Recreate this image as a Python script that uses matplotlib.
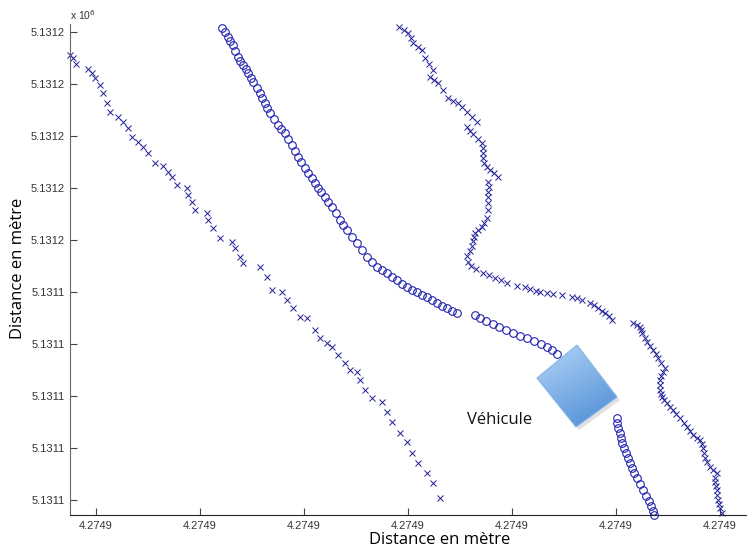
import numpy as np
import matplotlib
matplotlib.use("Agg")
import matplotlib.pyplot as plt
from matplotlib.patches import Polygon

# local metres (east, north)
# left border, "x" markers
left_x = [-2.50, -2.21, -1.92, -0.77, -0.38, -0.10, 0.38, 0.67, 1.06, 1.35,
          2.12, 2.60, 3.08, 3.46, 4.04, 4.52, 5.00, 5.67, 6.44, 6.92,
          7.31, 7.79, 8.75, 8.85, 9.23, 9.52, 10.67, 10.77, 11.25, 11.92,
          13.08, 13.37, 13.85, 14.13, 15.77, 16.44, 16.92, 17.88, 18.37, 18.94,
          19.62, 20.29, 21.06, 21.54, 22.21, 22.69, 23.27, 23.94, 24.42, 25.10,
          25.38, 25.87, 26.54, 27.50, 27.98, 28.46, 29.23, 29.90, 30.38, 30.96,
          31.83, 32.40, 33.08]
left_y = [42.79, 42.50, 41.92, 41.44, 41.06, 40.58, 39.90, 39.13, 38.17, 37.31,
          36.83, 36.35, 35.77, 34.90, 34.42, 33.94, 33.37, 32.40, 32.12, 31.54,
          31.06, 30.29, 30.00, 29.33, 28.65, 27.88, 27.60, 26.92, 26.15, 25.19,
          24.81, 24.23, 23.37, 22.79, 22.40, 21.44, 20.19, 20.00, 19.23, 18.46,
          17.60, 17.50, 16.35, 15.58, 15.10, 14.71, 13.94, 13.17, 12.50, 12.31,
          11.54, 10.58, 9.81, 9.42, 8.46, 7.50, 6.44, 5.58, 4.52, 3.56,
          2.60, 1.63, 0.19]

# vehicle track, "o" markers (three pieces)
track1_x = [12.12, 12.40, 12.69, 12.88, 13.17, 13.37, 13.65, 13.85, 14.13, 14.42,
            14.62, 14.90, 15.10, 15.48, 15.77, 15.96, 16.25, 16.44, 16.73, 17.12,
            17.50, 17.79, 18.17, 18.46, 18.85, 19.13, 19.42, 19.71, 20.10, 20.38,
            20.77, 21.06, 21.35, 21.63, 22.02, 22.31, 22.69, 23.08, 23.46, 23.75,
            24.13, 24.62, 25.10, 25.58, 26.06, 26.54, 27.02, 27.50, 27.98, 28.46,
            28.94, 29.42, 29.90, 30.38, 30.87, 31.35, 31.83, 32.31, 32.79, 33.27,
            33.75, 34.23, 34.71]
track1_y = [45.38, 45.00, 44.52, 44.13, 43.75, 43.17, 42.60, 42.21, 41.83, 41.44,
            41.06, 40.58, 40.19, 39.62, 39.13, 38.65, 38.17, 37.69, 37.21, 36.63,
            36.06, 35.67, 35.29, 34.71, 34.13, 33.56, 32.98, 32.50, 31.92, 31.44,
            30.96, 30.48, 30.00, 29.62, 29.13, 28.65, 28.17, 27.60, 26.92, 26.44,
            25.96, 25.29, 24.71, 24.04, 23.37, 22.88, 22.40, 22.12, 21.83, 21.44,
            21.15, 20.77, 20.48, 20.19, 20.00, 19.71, 19.52, 19.23, 18.94, 18.65,
            18.46, 18.17, 17.98]
track2_x = [36.44, 36.92, 37.50, 38.17, 38.75, 39.42, 40.10, 40.77, 41.44, 42.12,
            42.79, 43.37, 43.85, 44.33]
track2_y = [17.79, 17.50, 17.21, 16.92, 16.63, 16.35, 16.06, 15.77, 15.58, 15.29,
            15.00, 14.71, 14.42, 14.04]
track3_x = [50.10, 50.10, 50.19, 50.38, 50.48, 50.58, 50.77, 50.96, 51.15, 51.35,
            51.54, 51.73, 52.02, 52.31, 52.60, 52.88, 53.17, 53.37, 53.56, 53.65]
track3_y = [7.88, 7.40, 6.92, 6.44, 5.96, 5.48, 5.00, 4.52, 4.04, 3.56,
            3.08, 2.60, 2.12, 1.54, 0.96, 0.38, -0.10, -0.58, -1.06, -1.44]

# middle border, "x" markers
mid_x = [29.13, 29.62, 30.00, 30.29, 30.48, 30.96, 31.35, 31.63, 32.02, 32.40,
         32.12, 32.50, 32.88, 33.37, 33.85, 34.33, 34.81, 35.19, 35.67, 36.15,
         36.63, 35.67, 35.96, 36.25, 36.73, 37.12, 37.21, 37.21, 37.21, 37.31,
         37.60, 37.88, 38.27, 38.65, 37.69, 37.79, 37.69, 37.69, 37.69, 37.69,
         37.60, 37.31, 37.12, 36.73, 36.44, 36.35, 36.25, 36.15, 35.96, 35.67,
         35.77, 36.06, 36.54, 37.21, 37.79, 38.37, 38.94, 39.52, 40.48, 41.25,
         41.73, 42.31, 42.69, 43.37, 43.94, 44.81, 45.77, 46.25, 46.73, 47.50,
         47.88, 48.27, 48.65, 48.94, 49.33, 49.62]
mid_y = [45.48, 45.19, 44.90, 44.42, 43.94, 43.56, 43.27, 42.50, 41.92, 41.35,
         40.67, 40.38, 40.10, 39.42, 38.65, 38.37, 38.17, 37.79, 37.31, 36.83,
         36.35, 35.87, 35.48, 35.19, 34.71, 34.33, 33.85, 33.37, 32.88, 32.40,
         32.02, 31.73, 31.44, 31.06, 30.58, 30.10, 29.62, 29.13, 28.56, 27.88,
         27.12, 26.63, 26.25, 25.96, 25.67, 25.29, 24.90, 24.42, 23.94, 23.46,
         22.88, 22.50, 22.21, 21.83, 21.63, 21.35, 21.15, 20.87, 20.58, 20.48,
         20.29, 20.10, 20.00, 19.90, 19.81, 19.71, 19.52, 19.42, 19.23, 18.94,
         18.75, 18.46, 18.17, 17.98, 17.69, 17.31]

# right border, "x" markers
right_x = [51.63, 52.02, 52.31, 52.40, 52.50, 52.79, 52.98, 53.27, 53.56, 53.85,
           54.04, 54.33, 54.71, 54.52, 54.33, 54.23, 54.23, 54.23, 54.33, 54.42,
           54.62, 54.90, 55.19, 55.48, 55.77, 56.15, 56.54, 56.83, 57.12, 57.40,
           57.79, 58.08, 58.27, 58.37, 58.46, 58.56, 58.75, 59.04, 59.33, 59.71,
           59.52, 59.52, 59.62, 59.71, 59.71, 59.81, 59.90, 60.00, 60.19]
right_y = [17.02, 16.83, 16.63, 16.35, 16.06, 15.58, 15.19, 14.81, 14.42, 14.04,
           13.65, 13.17, 12.69, 12.31, 11.92, 11.54, 11.06, 10.58, 10.19, 9.90,
           9.62, 9.33, 8.94, 8.65, 8.27, 7.88, 7.40, 7.02, 6.63, 6.25,
           5.96, 5.77, 5.38, 5.00, 4.52, 4.04, 3.65, 3.17, 2.88, 2.60,
           2.12, 1.73, 1.35, 0.96, 0.48, 0.00, -0.38, -0.77, -1.25]

# vehicle footprint corners (top, left, bottom, right)
vehicle_x = [46.25, 42.40, 46.15, 50.10]
vehicle_y = [14.90, 11.73, 7.02, 9.90]

x_ticks = [0, 10, 20, 30, 40, 50, 60]
x_labels = ['4.2749'] * 7
y_ticks = [0, 5, 10, 15, 20, 25, 30, 35, 40, 45]
y_labels = ['5.1311'] * 5 + ['5.1312'] * 5

fig = plt.figure(figsize=(7.47, 5.51), dpi=100)
ax = fig.add_axes([0.0937, 0.0653, 0.9063, 0.891])

xcol = '#1f1f99'
ocol = '#2323b0'
for xs, ys in [(left_x, left_y), (mid_x, mid_y), (right_x, right_y)]:
    ax.plot(xs, ys, ls='none', marker='x', ms=4, mew=0.7, color=xcol, clip_on=False)
for xs, ys in [(track1_x, track1_y), (track2_x, track2_y), (track3_x, track3_y)]:
    ax.plot(xs, ys, ls='none', marker='o', ms=5.5, mew=0.8, mfc='none', mec=ocol,
            clip_on=False)

# vehicle: gradient filled rotated rectangle with a soft shadow
corners = np.column_stack([vehicle_x, vehicle_y])
shadow = Polygon(corners + [0.3, -0.3], closed=True, fc='#c4c4c4', ec='none',
                 alpha=0.5, zorder=4)
ax.add_patch(shadow)
body = Polygon(corners, closed=True, fc='none', ec='#86b6ea', lw=0.8, zorder=6)
ax.add_patch(body)
gx, gy = np.meshgrid(np.linspace(0, 1, 100), np.linspace(0, 1, 100))
grad = 0.35 * gx + 0.65 * gy
cmap = matplotlib.colors.LinearSegmentedColormap.from_list('veh', ['#b3d5f8', '#4a8ad3'])
img = ax.imshow(grad, cmap=cmap, origin='upper', aspect='auto', zorder=5,
                extent=[min(vehicle_x), max(vehicle_x), min(vehicle_y), max(vehicle_y)])
img.set_clip_path(body)
ax.text(38.8, 7.7, 'Véhicule', fontsize=12, family='Open Sans', ha='center',
        va='center', color='#111111')

ax.set_xlim(-2.5, 62.6)
ax.set_ylim(-1.44, 45.77)
ax.set_xticks(x_ticks)
ax.set_xticklabels(x_labels)
ax.set_yticks(y_ticks)
ax.set_yticklabels(y_labels)
ax.tick_params(direction='in', length=5, width=0.8, colors='#444444', labelsize=8,
               pad=4, labelcolor='#333333')
for s in ['top', 'right']:
    ax.spines[s].set_visible(False)
ax.spines['left'].set_color('#666666')
ax.spines['bottom'].set_color('#222222')
for lbl in ax.get_xticklabels() + ax.get_yticklabels():
    lbl.set_family('Liberation Sans')

ax.text(-0.0, 1.005, r'x 10$^6$', transform=ax.transAxes, fontsize=7.5,
        family='Liberation Sans', color='#333333', ha='left', va='bottom')

fig.text(440 / 747, 1 - 540 / 551, 'Distance en mètre', fontsize=12, family='Open Sans',
         ha='center', va='center')
fig.text(18 / 747, 1 - 268 / 551, 'Distance en mètre', fontsize=12, family='Open Sans',
         ha='center', va='center', rotation=90)

fig.savefig('out.png', dpi=100)
